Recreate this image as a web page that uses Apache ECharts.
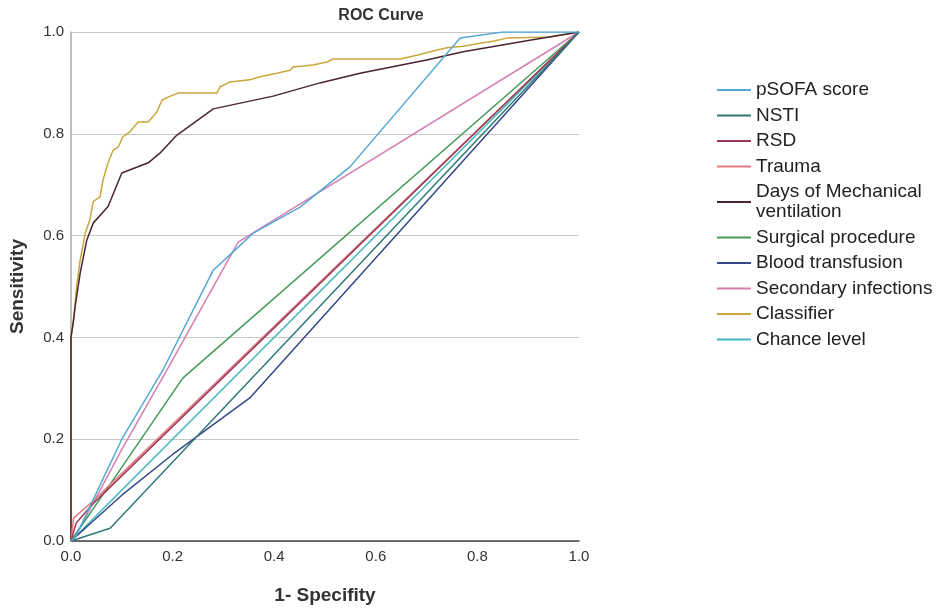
<!DOCTYPE html>
<html>
<head>
<meta charset="utf-8">
<title>ROC Curve</title>
<script src="https://cdn.jsdelivr.net/npm/echarts@6/dist/echarts.min.js"></script>
<style>
  html, body { margin: 0; padding: 0; background: #fff; }
  #chart { width: 942px; height: 611px; }
</style>
</head>
<body>
<div id="chart"></div>
<script>
// 每条ROC曲线的点 [1-特异度, 灵敏度]
var pSofa = [[0,0],[0.01,0.01],[0.1,0.2],[0.181,0.336],[0.28,0.532],[0.317,0.566],[0.359,0.605],[0.451,0.656],[0.549,0.735],[0.766,0.988],[0.85,1],[1,1]];
var nsti = [[0,0],[0.077,0.025],[1,1]];
var rsd = [[0,0],[0.01,0.035],[0.04,0.07],[1,1]];
var trauma = [[0,0],[0.005,0.045],[0.045,0.08],[1,1]];
var daysMv = [[0,0],[0,0.4],[0.005,0.434],[0.008,0.46],[0.018,0.526],[0.031,0.591],[0.044,0.625],[0.073,0.657],[0.1,0.723],[0.152,0.743],[0.175,0.762],[0.208,0.797],[0.28,0.849],[0.398,0.874],[0.49,0.9],[0.569,0.919],[0.7,0.945],[0.772,0.961],[0.903,0.984],[1,1]];
var surgical = [[0,0],[0.083,0.12],[0.22,0.32],[1,1]];
var bloodTrans = [[0,0],[0.1,0.09],[0.2,0.17],[0.352,0.281],[1,1]];
var secondary = [[0,0],[0.02,0.03],[0.1,0.18],[0.189,0.336],[0.329,0.587],[1,1]];
var classifier = [[0,0],[0,0.4],[0.005,0.434],[0.011,0.5],[0.018,0.552],[0.028,0.605],[0.037,0.63],[0.044,0.667],[0.057,0.676],[0.063,0.709],[0.073,0.743],[0.083,0.768],[0.093,0.774],[0.102,0.794],[0.116,0.804],[0.132,0.823],[0.152,0.823],[0.169,0.843],[0.179,0.866],[0.191,0.872],[0.211,0.88],[0.287,0.88],[0.293,0.892],[0.313,0.902],[0.352,0.906],[0.372,0.912],[0.405,0.919],[0.431,0.925],[0.437,0.931],[0.476,0.935],[0.504,0.941],[0.516,0.947],[0.648,0.947],[0.683,0.955],[0.707,0.961],[0.74,0.969],[0.772,0.972],[0.805,0.978],[0.831,0.982],[0.858,0.988],[0.943,0.99],[1,1]];
var chance = [[0,0],[1,1]];

var names = ['pSOFA score', 'NSTI', 'RSD', 'Trauma', 'Days of Mechanical\nventilation',
    'Surgical procedure', 'Blood transfusion', 'Secondary infections', 'Classifier', 'Chance level'];
var curves = [pSofa, nsti, rsd, trauma, daysMv, surgical, bloodTrans, secondary, classifier, chance];
var colors = ['#55a9d6', '#2f7a78', '#9a3a55', '#e57882', '#4a2432',
    '#449a58', '#34498a', '#d67fb2', '#c9a73a', '#3db6c2'];

var chart = echarts.init(document.getElementById('chart'));

var series = curves.map(function(pts, i) {
    return {
        name: names[i],
        type: 'line',
        data: pts,
        symbol: 'none',
        animation: false,
        lineStyle: { color: colors[i], width: 1.5 },
        itemStyle: { color: colors[i] },
        z: 10 - i
    };
});

chart.setOption({
    backgroundColor: '#fff',
    title: {
        text: 'ROC Curve',
        left: 376,
        top: 3,
        textAlign: 'center',
        textStyle: { fontFamily: 'Liberation Sans', fontSize: 16, fontWeight: 'bold', color: '#333' }
    },
    legend: {
        orient: 'vertical',
        left: 712,
        top: 75,
        itemWidth: 34,
        itemHeight: 2,
        itemGap: 5.5,
        icon: 'rect',
        data: names,
        textStyle: { fontFamily: 'Liberation Sans', fontSize: 19, color: '#222', lineHeight: 20 }
    },
    grid: { left: 71, right: 363, top: 32, bottom: 70, containLabel: false, outerBoundsMode: 'none' },
    xAxis: {
        type: 'value',
        min: 0, max: 1, interval: 0.2,
        name: '1- Specifity',
        nameLocation: 'middle',
        nameGap: 45,
        nameTextStyle: { fontFamily: 'Liberation Sans', fontSize: 19, fontWeight: 'bold', color: '#333' },
        axisLine: { lineStyle: { color: '#444', width: 1.5 } },
        axisTick: { show: false },
        axisLabel: {
            fontFamily: 'Liberation Sans', fontSize: 15, color: '#333', margin: 8,
            formatter: function(v) { return v.toFixed(1); }
        },
        splitLine: { show: false }
    },
    yAxis: {
        type: 'value',
        min: 0, max: 1, interval: 0.2,
        name: 'Sensitivity',
        nameLocation: 'middle',
        nameGap: 44,
        nameTextStyle: { fontFamily: 'Liberation Sans', fontSize: 19, fontWeight: 'bold', color: '#333' },
        axisLine: { show: true, lineStyle: { color: '#aaa', width: 1.5 } },
        axisTick: { show: false },
        axisLabel: {
            fontFamily: 'Liberation Sans', fontSize: 15, color: '#333', margin: 7,
            formatter: function(v) { return v.toFixed(1); }
        },
        splitLine: { show: true, lineStyle: { color: '#c8c8c8', width: 1.2 } }
    },
    series: series
});

window.addEventListener('resize', function() { chart.resize(); });
</script>
</body>
</html>
